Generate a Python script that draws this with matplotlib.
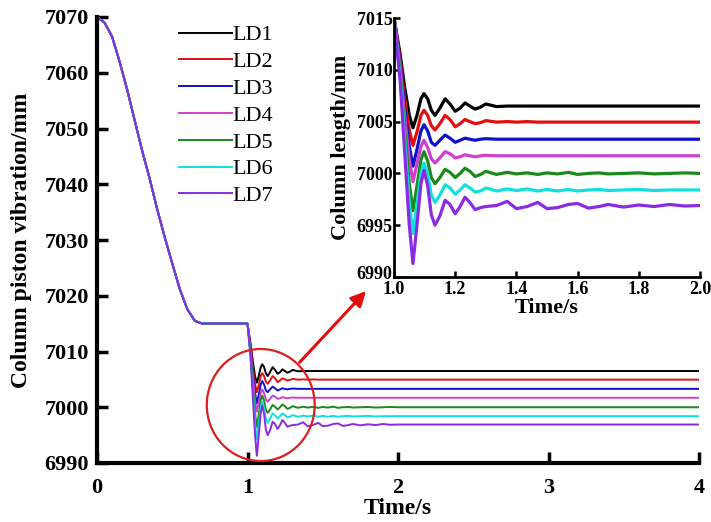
import matplotlib
matplotlib.use("Agg")
import matplotlib.pyplot as plt
from matplotlib.patches import Ellipse
from matplotlib.transforms import ScaledTranslation

# ---------------- data ----------------
pre_t = [0.00, 0.05, 0.10, 0.15, 0.20, 0.25, 0.30, 0.35, 0.40, 0.45, 0.50,
         0.55, 0.60, 0.65, 0.70, 0.80, 0.90]
pre_y = [7070.0, 7069.0, 7066.5, 7062.0, 7057.0, 7051.5, 7046.0, 7041.0, 7035.5,
         7030.5, 7025.8, 7021.2, 7017.6, 7015.5, 7015.0, 7015.0, 7015.0]

trans_t = [1.00, 1.02, 1.035, 1.05, 1.062, 1.075, 1.088, 1.098, 1.11, 1.122,
           1.134, 1.15, 1.167, 1.183, 1.20, 1.216, 1.232, 1.248, 1.265, 1.283, 1.30]
tail_t = [1.335, 1.37, 1.40, 1.435, 1.47, 1.50, 1.535, 1.57, 1.60, 1.635,
          1.67, 1.70, 1.75, 1.80, 1.85, 1.90, 1.95, 2.00, 4.00]

labels = ["LD1", "LD2", "LD3", "LD4", "LD5", "LD6", "LD7"]

ld1_trans = [7015, 7011.5, 7008.3, 7005.6, 7004.4, 7005.6, 7007.2, 7007.7, 7007.2, 7006.1,
             7005.6, 7006.3, 7007.2, 7006.7, 7006.0, 7006.3, 7006.8, 7006.5, 7006.2, 7006.4, 7006.7]
ld1_tail = [7006.45, 7006.5, 7006.5, 7006.5, 7006.5, 7006.5, 7006.5, 7006.5, 7006.5, 7006.5,
            7006.5, 7006.5, 7006.5, 7006.5, 7006.5, 7006.5, 7006.5, 7006.5, 7006.5]

ld2_trans = [7015, 7011.0, 7007.2, 7004.2, 7002.7, 7004.0, 7005.6, 7006.1, 7005.6, 7004.6,
             7004.2, 7004.8, 7005.6, 7005.2, 7004.5, 7004.8, 7005.2, 7005.0, 7004.8, 7004.9, 7005.1]
ld2_tail = [7004.95, 7005.0, 7004.95, 7005.0, 7004.95, 7004.95, 7004.95, 7004.95, 7004.95, 7004.95,
            7004.95, 7004.95, 7004.95, 7004.95, 7004.95, 7004.95, 7004.95, 7004.95, 7004.95]

ld3_trans = [7015, 7010.6, 7006.3, 7002.6, 7000.7, 7002.3, 7004.1, 7004.7, 7004.1, 7003.0,
             7002.7, 7003.2, 7003.7, 7003.4, 7003.0, 7003.2, 7003.4, 7003.3, 7003.2, 7003.3, 7003.35]
ld3_tail = [7003.3, 7003.3, 7003.3, 7003.3, 7003.3, 7003.3, 7003.3, 7003.3, 7003.3, 7003.3,
            7003.3, 7003.3, 7003.3, 7003.3, 7003.3, 7003.3, 7003.3, 7003.3, 7003.3]

ld4_trans = [7015, 7010.3, 7005.5, 7001.3, 6999.2, 7000.9, 7002.6, 7003.2, 7002.5, 7001.4,
             7001.0, 7001.5, 7002.1, 7001.9, 7001.5, 7001.6, 7001.8, 7001.7, 7001.6, 7001.7, 7001.75]
ld4_tail = [7001.7, 7001.7, 7001.7, 7001.7, 7001.7, 7001.7, 7001.7, 7001.7, 7001.7, 7001.7,
            7001.7, 7001.7, 7001.7, 7001.7, 7001.7, 7001.7, 7001.7, 7001.7, 7001.7]

ld5_trans = [7015, 7009.8, 7004.2, 6999.0, 6996.4, 6998.8, 7001.3, 7002.1, 7001.2, 6999.6,
             6999.0, 6999.6, 7000.4, 7000.1, 6999.6, 7000.0, 7000.5, 7000.2, 6999.7, 6999.9, 7000.2]
ld5_tail = [6999.9, 7000.1, 6999.95, 7000.05, 6999.9, 7000.05, 6999.95, 7000.1, 6999.9, 7000.0,
            7000.05, 6999.95, 7000.0, 7000.05, 6999.95, 7000.0, 7000.05, 7000.0, 7000.0]

ld6_trans = [7015, 7009.4, 7003.2, 6997.1, 6994.2, 6997.0, 7000.0, 7001.0, 6999.9, 6997.9,
             6997.2, 6997.9, 6998.9, 6998.6, 6998.0, 6998.4, 6998.9, 6998.6, 6998.2, 6998.3, 6998.6]
ld6_tail = [6998.3, 6998.5, 6998.35, 6998.5, 6998.3, 6998.45, 6998.3, 6998.45, 6998.3, 6998.4,
            6998.45, 6998.35, 6998.4, 6998.45, 6998.35, 6998.4, 6998.4, 6998.4, 6998.4]

ld7_trans = [7015, 7009.0, 7002.0, 6995.0, 6991.3, 6995.0, 6999.0, 7000.3, 6998.8, 6996.0,
             6995.0, 6995.9, 6997.4, 6997.0, 6996.1, 6996.8, 6997.7, 6997.2, 6996.5, 6996.7, 6996.8]
ld7_tail = [6996.9, 6997.3, 6996.6, 6996.8, 6997.2, 6996.6, 6996.7, 6997.0, 6997.1, 6996.65,
            6996.8, 6997.0, 6996.75, 6996.95, 6996.8, 6997.0, 6996.85, 6996.9, 6996.9]

trans_vals = [ld1_trans, ld2_trans, ld3_trans, ld4_trans, ld5_trans, ld6_trans, ld7_trans]
tail_vals = [ld1_tail, ld2_tail, ld3_tail, ld4_tail, ld5_tail, ld6_tail, ld7_tail]

main_yticks = [6990, 7000, 7010, 7020, 7030, 7040, 7050, 7060, 7070]
main_xticks = [0, 1, 2, 3, 4]
inset_yticks = [6990, 6995, 7000, 7005, 7010, 7015]
inset_xticks = [1.0, 1.2, 1.4, 1.6, 1.8, 2.0]

colors = ["#000000", "#e01010", "#1010c8", "#d040d0", "#1a8a1a", "#10e0e0", "#8a2be2"]

# ---------------- figure ----------------
plt.rcParams['font.family'] = ['Liberation Serif', 'DejaVu Serif']
fig = plt.figure(figsize=(7.11, 5.22), dpi=100)
ax = fig.add_axes([97/711, 1-463/522, 602/711, 446/522])

full_t = pre_t + trans_t + tail_t
for lab, c, tv, lv in zip(labels, colors, trans_vals, tail_vals):
    ax.plot(full_t, pre_y + tv + lv, color=c, lw=1.4, label=lab)

ax.set_xlim(0, 4)
ax.set_ylim(6990, 7070)
ax.set_xticks(main_xticks)
ax.set_yticks(main_yticks)
for s in ['top', 'right']:
    ax.spines[s].set_visible(False)
for s in ['left', 'bottom']:
    ax.spines[s].set_linewidth(3)
ax.tick_params(direction='in', length=8, width=2.5, labelsize=16, pad=6)
ax.tick_params(axis='x', pad=11)
for t in ax.get_xticklabels() + ax.get_yticklabels():
    t.set_fontweight('bold')
ax.set_xlabel("Time/s", fontsize=17, fontweight='bold', labelpad=0)
ax.set_ylabel("Column piston vibration/mm", fontsize=17, fontweight='bold', labelpad=9)

leg = ax.legend(loc='upper left', bbox_to_anchor=(73/602, 1 + 1/446), frameon=False,
                fontsize=16, handlelength=2.4, handletextpad=0.0, labelspacing=0.28,
                borderaxespad=0)

ell = Ellipse((1.088, 7000.4), width=0.717, height=20.1, fill=False,
              edgecolor='#d82020', lw=1.6, clip_on=False, zorder=5)
ax.add_patch(ell)
ax.annotate('', xy=(1.80, 7021.2), xytext=(1.334, 7007.7),
            arrowprops=dict(arrowstyle='-|>', color='#e01010', lw=2.2, mutation_scale=22),
            annotation_clip=False)

# ---------------- inset ----------------
axi = fig.add_axes([394/711, 1-277/522, 306/711, 259/522])
for lab, c, tv, lv in zip(labels, colors, trans_vals, tail_vals):
    axi.plot(full_t, pre_y + tv + lv, color=c, lw=2.3)
axi.set_xlim(1.0, 2.0)
axi.set_ylim(6990, 7015)
axi.set_xticks(inset_xticks)
axi.set_yticks(inset_yticks)
axi.set_xticklabels([f"{v:.1f}" for v in inset_xticks])
for s in ['top', 'right']:
    axi.spines[s].set_visible(False)
for s in ['left', 'bottom']:
    axi.spines[s].set_linewidth(2)
axi.tick_params(direction='in', length=4, width=1.8, labelsize=13, pad=1)
axi.tick_params(axis='x', pad=3)
for t in axi.get_xticklabels() + axi.get_yticklabels():
    t.set_fontweight('bold')
# nudge the lowest y label up a little so it does not collide with "1.0"
lbl = axi.get_yticklabels()[0]
lbl.set_transform(lbl.get_transform() + ScaledTranslation(0, 3/72, fig.dpi_scale_trans))
axi.set_xlabel("Time/s", fontsize=16, fontweight='bold', labelpad=0)
axi.set_ylabel("Column length/mm", fontsize=16, fontweight='bold', labelpad=4)

fig.savefig("out.png", dpi=100)
